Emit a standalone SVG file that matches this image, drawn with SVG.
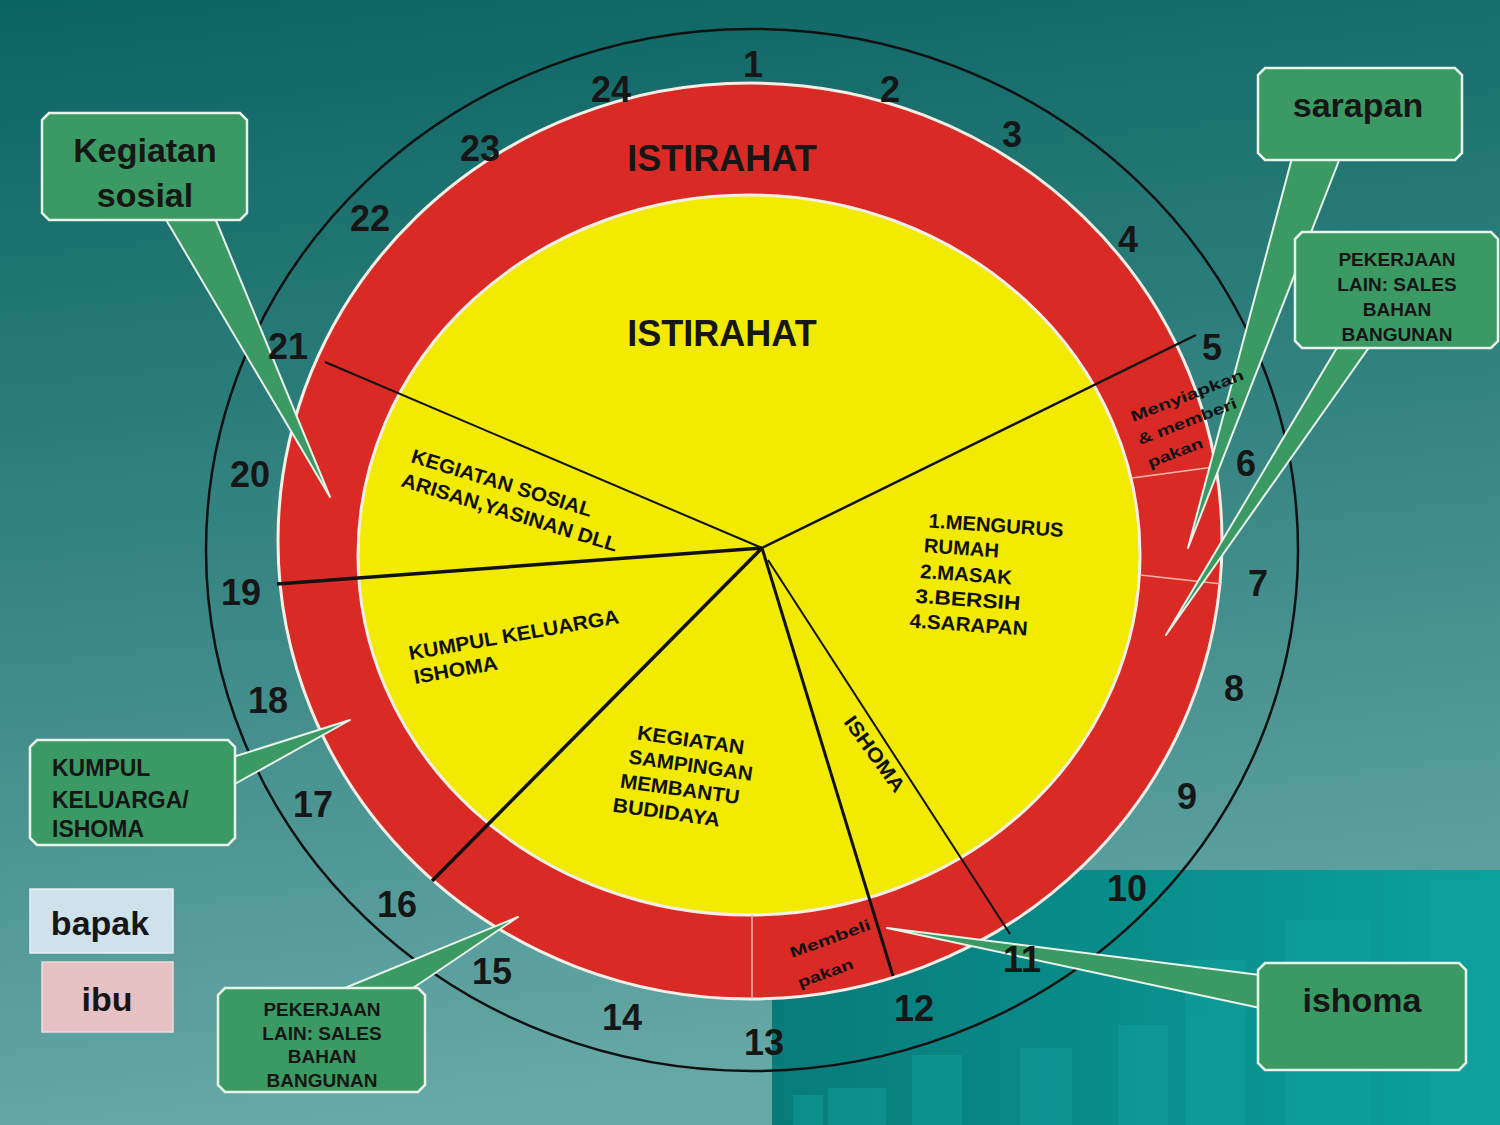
<svg xmlns="http://www.w3.org/2000/svg" width="1500" height="1125" viewBox="0 0 1500 1125">
<defs>
<linearGradient id="bg" x1="0" y1="0" x2="0.15" y2="1">
<stop offset="0" stop-color="#0a6462"/>
<stop offset="0.55" stop-color="#3a8886"/>
<stop offset="1" stop-color="#66a8a6"/>
</linearGradient>
<linearGradient id="blk" x1="0" y1="0" x2="1" y2="0">
<stop offset="0" stop-color="#087b79"/>
<stop offset="1" stop-color="#0aa19e"/>
</linearGradient>
<style>
.num{font-family:"Liberation Sans",Arial,sans-serif;font-weight:bold;font-size:36px;fill:#161616;text-anchor:middle}
.big{font-family:"Liberation Sans",Arial,sans-serif;font-weight:bold;font-size:36px;fill:#161616;text-anchor:middle}
.seg{font-family:"Liberation Sans",Arial,sans-serif;font-weight:bold;font-size:20px;fill:#111}
.small{font-family:"Liberation Sans",Arial,sans-serif;font-weight:bold;font-size:15px;fill:#111}
.box{fill:#3b9a63;stroke:#e8f4ea;stroke-width:2.5}
.ptr{fill:#3b9a63;stroke:#e8f4ea;stroke-width:2;stroke-linejoin:round}
.ct{font-family:"Liberation Sans",Arial,sans-serif;font-weight:bold;fill:#161616;text-anchor:middle}
.lt{font-family:"Liberation Sans",Arial,sans-serif;font-weight:bold;fill:#161616;text-anchor:start;font-size:23px}
.spoke{stroke:#111;fill:none}
.sep{stroke:#f3b4ac;stroke-width:1.5}
</style>
</defs>
<rect width="1500" height="1125" fill="url(#bg)"/>
<rect x="772" y="870" width="728" height="255" fill="url(#blk)"/>
<g fill="#12a3a0" opacity="0.45">
<rect x="793" y="1095" width="30" height="30"/><rect x="828" y="1088" width="58" height="37"/><rect x="912" y="1055" width="50" height="70"/><rect x="1020" y="1048" width="52" height="77"/><rect x="1118" y="1025" width="50" height="100"/><rect x="1285" y="920" width="85" height="205"/><rect x="1430" y="880" width="70" height="245"/><rect x="1185" y="960" width="60" height="165"/>
</g>

<g id="dial">
<ellipse cx="752" cy="550" rx="546" ry="521" fill="none" stroke="#111" stroke-width="2.5"/>
<ellipse cx="750" cy="541" rx="472" ry="458" fill="#d92a26" stroke="#f4eee6" stroke-width="3"/>
<ellipse cx="749" cy="555" rx="391" ry="360" fill="#f2ea00" stroke="#f4eee6" stroke-width="3"/>
<line class="sep" x1="1132" y1="478" x2="1214" y2="467"/>
<line class="sep" x1="1140" y1="575" x2="1222" y2="584"/>
<line class="sep" x1="752" y1="915" x2="752" y2="999"/>
<text class="big" x="722" y="171">ISTIRAHAT</text>
<text class="big" x="722" y="346">ISTIRAHAT</text>
</g>

<g id="connectors">
<line class="spoke" stroke-width="2" x1="762" y1="548" x2="325" y2="362"/>
<line class="spoke" stroke-width="2.5" x1="762" y1="548" x2="1196" y2="335"/>
<line class="spoke" stroke-width="3.5" x1="762" y1="548" x2="277" y2="584"/>
<line class="spoke" stroke-width="3.5" x1="762" y1="548" x2="432" y2="881"/>
<line class="spoke" stroke-width="3" x1="762" y1="548" x2="893" y2="976"/>
<line class="spoke" stroke-width="2" x1="768" y1="560" x2="1010" y2="934"/>
<polygon class="ptr" points="165,218 215,218 330,497"/>
<polygon class="ptr" points="1292,158 1340,158 1188,548"/>
<polygon class="ptr" points="1338,346 1370,346 1166,635"/>
<polygon class="ptr" points="233,757 233,785 350,720"/>
<polygon class="ptr" points="340,990 410,990 518,917"/>
<polygon class="ptr" points="1260,975 1260,1008 887,928"/>
</g>

<g id="segment-labels">
<text class="seg" x="410" y="462" textLength="188" lengthAdjust="spacingAndGlyphs" transform="rotate(17 410 462)">KEGIATAN SOSIAL</text>
<text class="seg" x="400" y="486" textLength="225" lengthAdjust="spacingAndGlyphs" transform="rotate(17 400 486)">ARISAN,YASINAN DLL</text>
<g transform="rotate(4 920 575)">
<text class="seg" x="925" y="527" textLength="135" lengthAdjust="spacingAndGlyphs">1.MENGURUS</text>
<text class="seg" x="922" y="552" textLength="75" lengthAdjust="spacingAndGlyphs">RUMAH</text>
<text class="seg" x="920" y="578" textLength="92" lengthAdjust="spacingAndGlyphs">2.MASAK</text>
<text class="seg" x="917" y="603" textLength="105" lengthAdjust="spacingAndGlyphs">3.BERSIH</text>
<text class="seg" x="913" y="628" textLength="118" lengthAdjust="spacingAndGlyphs">4.SARAPAN</text>
</g>
<text class="seg" x="410" y="660" textLength="213" lengthAdjust="spacingAndGlyphs" transform="rotate(-10 410 660)">KUMPUL KELUARGA</text>
<text class="seg" x="415" y="684" textLength="85" lengthAdjust="spacingAndGlyphs" transform="rotate(-10 415 684)">ISHOMA</text>
<g transform="rotate(8 625 770)">
<text class="seg" x="632" y="738" textLength="108" lengthAdjust="spacingAndGlyphs">KEGIATAN</text>
<text class="seg" x="627" y="763" textLength="125" lengthAdjust="spacingAndGlyphs">SAMPINGAN</text>
<text class="seg" x="622" y="788" textLength="120" lengthAdjust="spacingAndGlyphs">MEMBANTU</text>
<text class="seg" x="618" y="813" textLength="108" lengthAdjust="spacingAndGlyphs">BUDIDAYA</text>
</g>
<text class="seg" x="843" y="722" font-size="18" textLength="89" lengthAdjust="spacingAndGlyphs" transform="rotate(54 843 722)">ISHOMA</text>
<text class="small" x="1133" y="422" textLength="120" lengthAdjust="spacingAndGlyphs" transform="rotate(-21 1133 422)">Menyiapkan</text>
<text class="small" x="1140" y="445" textLength="105" lengthAdjust="spacingAndGlyphs" transform="rotate(-21 1140 445)">&amp; memberi</text>
<text class="small" x="1150" y="468" textLength="58" lengthAdjust="spacingAndGlyphs" transform="rotate(-21 1150 468)">pakan</text>
<text class="small" x="792" y="958" textLength="85" lengthAdjust="spacingAndGlyphs" transform="rotate(-20 792 958)">Membeli</text>
<text class="small" x="800" y="988" textLength="58" lengthAdjust="spacingAndGlyphs" transform="rotate(-20 800 988)">pakan</text>
</g>

<g id="hours">
<text class="num" x="753" y="77">1</text>
<text class="num" x="890" y="102">2</text>
<text class="num" x="1012" y="147">3</text>
<text class="num" x="1128" y="252">4</text>
<text class="num" x="1212" y="360">5</text>
<text class="num" x="1246" y="476">6</text>
<text class="num" x="1258" y="596">7</text>
<text class="num" x="1234" y="701">8</text>
<text class="num" x="1187" y="809">9</text>
<text class="num" x="1127" y="901">10</text>
<text class="num" x="1022" y="972">11</text>
<text class="num" x="914" y="1021">12</text>
<text class="num" x="764" y="1055">13</text>
<text class="num" x="622" y="1030">14</text>
<text class="num" x="492" y="984">15</text>
<text class="num" x="397" y="917">16</text>
<text class="num" x="313" y="817">17</text>
<text class="num" x="268" y="713">18</text>
<text class="num" x="241" y="605">19</text>
<text class="num" x="250" y="487">20</text>
<text class="num" x="288" y="359">21</text>
<text class="num" x="370" y="231">22</text>
<text class="num" x="480" y="161">23</text>
<text class="num" x="611" y="102">24</text>
</g>

<g id="callout-kegiatan-sosial">
<path class="box" d="M49 113 L240 113 L247 120 L247 213 L240 220 L49 220 L42 213 L42 120 Z"/>
<text class="ct" x="145" y="162" font-size="34">Kegiatan</text>
<text class="ct" x="145" y="207" font-size="34">sosial</text>
</g>
<g id="callout-sarapan">
<path class="box" d="M1265 68 L1455 68 L1462 75 L1462 153 L1455 160 L1265 160 L1258 153 L1258 75 Z"/>
<text class="ct" x="1358" y="117" font-size="34">sarapan</text>
</g>
<g id="callout-pekerjaan-bapak">
<path class="box" d="M1302 232 L1491 232 L1498 239 L1498 341 L1491 348 L1302 348 L1295 341 L1295 239 Z"/>
<text class="ct" x="1397" y="266" font-size="19">PEKERJAAN</text>
<text class="ct" x="1397" y="291" font-size="19">LAIN: SALES</text>
<text class="ct" x="1397" y="316" font-size="19">BAHAN</text>
<text class="ct" x="1397" y="341" font-size="19">BANGUNAN</text>
</g>
<g id="callout-kumpul-keluarga">
<path class="box" d="M37 740 L228 740 L235 747 L235 838 L228 845 L37 845 L30 838 L30 747 Z"/>
<text class="lt" x="52" y="776">KUMPUL</text>
<text class="lt" x="52" y="808">KELUARGA/</text>
<text class="lt" x="52" y="837">ISHOMA</text>
</g>
<g id="callout-pekerjaan-ibu">
<path class="box" d="M225 988 L418 988 L425 995 L425 1085 L418 1092 L225 1092 L218 1085 L218 995 Z"/>
<text class="ct" x="322" y="1016" font-size="19">PEKERJAAN</text>
<text class="ct" x="322" y="1040" font-size="19">LAIN: SALES</text>
<text class="ct" x="322" y="1063" font-size="19">BAHAN</text>
<text class="ct" x="322" y="1087" font-size="19">BANGUNAN</text>
</g>
<g id="callout-ishoma">
<path class="box" d="M1265 963 L1459 963 L1466 970 L1466 1063 L1459 1070 L1265 1070 L1258 1063 L1258 970 Z"/>
<text class="ct" x="1362" y="1012" font-size="34">ishoma</text>
</g>

<g id="legend-bapak">
<rect x="30" y="889" width="143" height="64" fill="#cfe2ec" stroke="#e6f0f4" stroke-width="1.5"/>
<text class="ct" x="100" y="935" font-size="34">bapak</text>
</g>
<g id="legend-ibu">
<rect x="42" y="962" width="131" height="70" fill="#e6c2c5" stroke="#f0dadb" stroke-width="1.5"/>
<text class="ct" x="107" y="1011" font-size="34">ibu</text>
</g>
</svg>
